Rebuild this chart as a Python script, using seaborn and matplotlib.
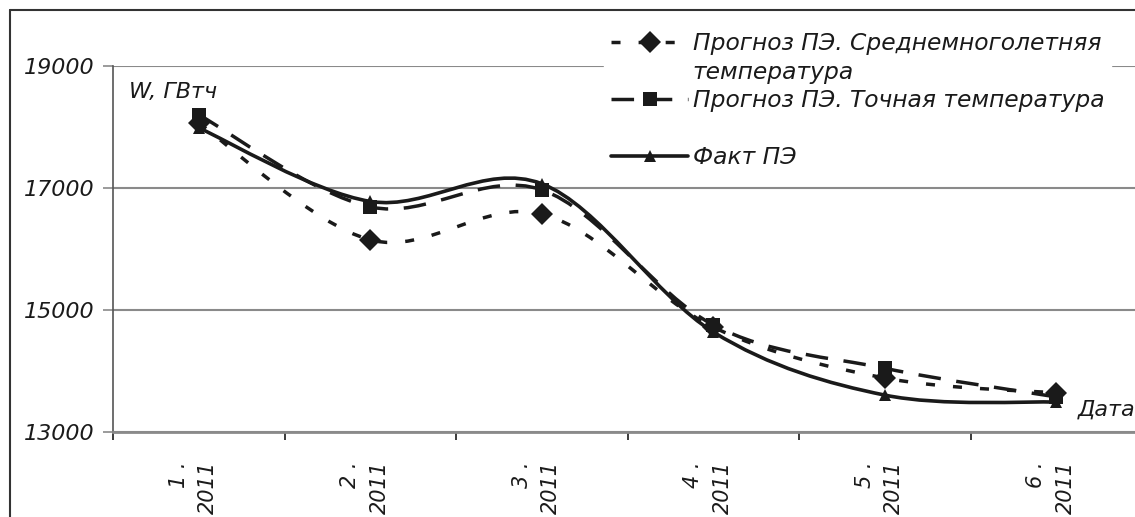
import numpy as np
import pandas as pd
import matplotlib
matplotlib.use("Agg")
import matplotlib.pyplot as plt
import seaborn as sns
from matplotlib.path import Path
from matplotlib.patches import PathPatch
from matplotlib.lines import Line2D

# ---------------- data ----------------
months = ["1 .\n2011", "2 .\n2011", "3 .\n2011", "4 .\n2011", "5 .\n2011", "6 .\n2011"]
forecast_avg = [18060, 16150, 16575, 14720, 13885, 13640]
forecast_exact = [18200, 16690, 16970, 14755, 14045, 13575]
fact = [17985, 16780, 17070, 14640, 13605, 13490]
series_names = ["Прогноз ПЭ. Среднемноголетняя",
                "Прогноз ПЭ. Точная температура",
                "Факт ПЭ"]
legend_wrap = "температура"
yticks = [13000, 15000, 17000, 19000]
y_title = "W, ГВтч"
x_title = "Дата"

# ---------------- style ----------------
sns.set_theme(style="white")
plt.rcParams['font.family'] = ['DejaVu Sans']
FS = 16
INK = "#1a1a1a"
GRID = "#8a8a8a"

W, H = 1135, 517
fig = plt.figure(figsize=(W / 100, H / 100), dpi=100)
fig.patch.set_facecolor("white")
ax = fig.add_axes([113 / W, 1 - 432 / H, (1142 - 113) / W, (432 - 66) / H])

xpos = np.arange(len(months))
df = pd.DataFrame({"x": np.tile(xpos, 3),
                   "y": forecast_avg + forecast_exact + fact,
                   "series": np.repeat(series_names, len(months))})

styles = {
    series_names[0]: dict(ls=(0, (2.6, 5.2)), lw=2.5, marker="D", ms=11),
    series_names[1]: dict(ls=(0, (6.5, 4.5)), lw=2.5, marker="s", ms=10),
    series_names[2]: dict(ls="-", lw=2.6, marker="^", ms=9),
}


def smooth_path(xs, ys):
    P = np.column_stack([xs, ys]).astype(float)
    n = len(P)
    verts = [P[0]]
    codes = [Path.MOVETO]
    for i in range(n - 1):
        pp = P[max(i - 1, 0)]
        p0 = P[i]
        p1 = P[i + 1]
        pn = P[min(i + 2, n - 1)]
        c1 = p0 + (p1 - pp) / 6.0
        c2 = p1 - (pn - p0) / 6.0
        verts += [c1, c2, p1]
        codes += [Path.CURVE4] * 3
    return Path(verts, codes)


for name in series_names:
    sub = df[df["series"] == name]
    st = styles[name]
    patch = PathPatch(smooth_path(sub["x"].values, sub["y"].values), fill=False,
                      edgecolor=INK, lw=st["lw"], linestyle=st["ls"],
                      capstyle="butt", zorder=3)
    ax.add_patch(patch)
    sns.lineplot(data=sub, x="x", y="y", ax=ax, linestyle="", marker=st["marker"],
                 markersize=st["ms"], color=INK, markeredgecolor=INK,
                 markeredgewidth=0, zorder=4, legend=False)

ax.set_xlim(-0.5, len(months) - 0.5)
ax.set_ylim(13000, 19000)
ax.set_yticks(yticks)
ax.set_yticklabels([str(v) for v in yticks], fontsize=FS, style="italic", color=INK)
ax.set_xticks(np.arange(len(months) + 1) - 0.5)
ax.set_xticklabels([])
ax.set_xticks(xpos - 0.03, minor=True)
ax.set_xticklabels(months, minor=True, rotation=90, fontsize=15, style="italic",
                   color=INK, va="top", ha="center", multialignment="right",
                   linespacing=1.6)
ax.tick_params(axis="x", which="major", direction="out", length=6, width=1.2,
               color=INK, bottom=True)
ax.tick_params(axis="x", which="minor", length=0, pad=21)
ax.tick_params(axis="y", direction="out", length=7, width=1.2, color=GRID,
               left=True, pad=6)
ax.grid(axis="y", color=GRID, lw=1.5)
ax.grid(axis="x", visible=False)
ax.set_axisbelow(True)
for s in ["top", "right"]:
    ax.spines[s].set_visible(False)
ax.spines["left"].set_color("#555555")
ax.spines["left"].set_linewidth(1.2)
ax.spines["bottom"].set_color(GRID)
ax.spines["bottom"].set_linewidth(2)
ax.set_xlabel("")
ax.set_ylabel("")

ax.text(0.016, 0.93, y_title, transform=ax.transAxes, fontsize=FS, style="italic",
        color=INK, ha="left", va="center")
ax.text(1135 / W, 1 - 410 / H, x_title, transform=fig.transFigure, fontsize=FS,
        style="italic", color=INK, ha="right", va="center")

# legend: the first label wraps onto a second line, the last entry sits lower
blank = Line2D([], [], linestyle="", marker="")
handles = [Line2D([], [], color=INK, lw=styles[n]["lw"], linestyle=styles[n]["ls"],
                  marker=styles[n]["marker"], markersize=styles[n]["ms"],
                  markeredgewidth=0) for n in series_names]
leg_handles = [handles[0], blank, handles[1], blank, handles[2]]
leg_labels = [series_names[0], legend_wrap, series_names[1], "", series_names[2]]
leg = ax.legend(leg_handles, leg_labels, loc="upper left",
                bbox_to_anchor=(604 / W, 1 - 25 / H), bbox_transform=fig.transFigure,
                frameon=True, fancybox=False, framealpha=1, edgecolor="white",
                facecolor="white", fontsize=16.8, handlelength=3.3, handletextpad=0.2,
                labelspacing=0.24, borderpad=0.3, borderaxespad=0)
for t in leg.get_texts():
    t.set_style("italic")
    t.set_color(INK)
leg.set_zorder(5)

# outer chart frame (top and left edges visible)
fig.add_artist(Line2D([10 / W, 1.0], [1 - 10 / H, 1 - 10 / H], transform=fig.transFigure,
                      color="#333333", lw=1.5))
fig.add_artist(Line2D([10 / W, 10 / W], [0, 1 - 10 / H], transform=fig.transFigure,
                      color="#333333", lw=1.5))

fig.savefig("out.png", dpi=100, facecolor="white")
